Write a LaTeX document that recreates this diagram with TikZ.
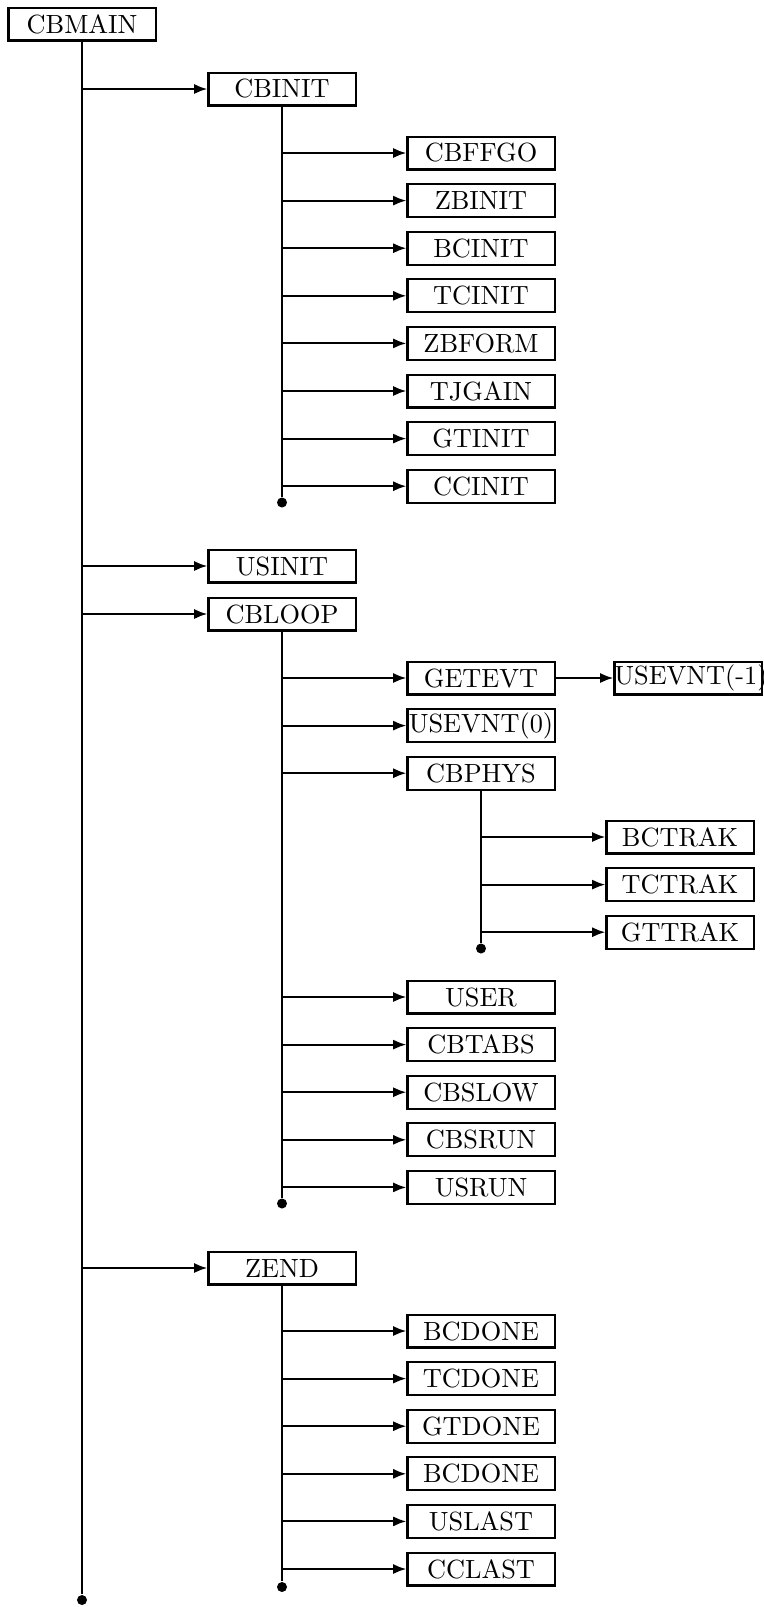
\documentclass[tikz,border=0pt]{standalone}
\usetikzlibrary{arrows.meta,positioning}

\begin{document}
\begin{tikzpicture}[
    x=0.38pt,y=-0.38pt,
    box/.style={draw,thick,text width=55.9pt,minimum height=12.5pt,inner sep=0pt,align=center},
    bullet/.style={circle,fill,inner sep=0pt,minimum size=3.8pt},
    trunk/.style={thick},
    arrow/.style={-{Latex[length=5pt,width=3.8pt]},thick}
]
\useasboundingbox (0,0) rectangle (764,1607);
% top level
\node[box] (cbmain) at (82,24) {CBMAIN};
\node[box] (cbinit) at (282,89) {CBINIT};
\node[box] (usinit) at (282,566) {USINIT};
\node[box] (cbloop) at (282,614) {CBLOOP};
\node[box] (zend) at (282,1268) {ZEND};
\node[bullet] (endmain) at (82,1600) {};
% under CBINIT
\node[box] (cbffgo) at (481,153) {CBFFGO};
\node[box] (zbinit) at (481,200.6) {ZBINIT};
\node[box] (bcinit) at (481,248.2) {BCINIT};
\node[box] (tcinit) at (481,295.8) {TCINIT};
\node[box] (zbform) at (481,343.4) {ZBFORM};
\node[box] (tjgain) at (481,391) {TJGAIN};
\node[box] (gtinit) at (481,438.6) {GTINIT};
\node[box] (ccinit) at (481,486.2) {CCINIT};
\node[bullet] (endinit) at (282,502.5) {};
% under CBLOOP
\node[box] (getevt) at (481,678) {GETEVT};
\node[box] (usevntm) at (688,678) {\mbox{USEVNT(-1)}};
\node[box] (usevnt) at (481,725.6) {USEVNT(0)};
\node[box] (cbphys) at (481,773.2) {CBPHYS};
\node[box] (bctrak) at (680,837) {BCTRAK};
\node[box] (tctrak) at (680,884.6) {TCTRAK};
\node[box] (gttrak) at (680,932.2) {GTTRAK};
\node[bullet] (endphys) at (481,948.5) {};
\node[box] (user) at (481,997) {USER};
\node[box] (cbtabs) at (481,1044.6) {CBTABS};
\node[box] (cbslow) at (481,1092.2) {CBSLOW};
\node[box] (cbsrun) at (481,1139.8) {CBSRUN};
\node[box] (usrun) at (481,1187.4) {USRUN};
\node[bullet] (endloop) at (282,1203.5) {};
% under ZEND
\node[box] (bcdone) at (481,1331) {BCDONE};
\node[box] (tcdone) at (481,1378.6) {TCDONE};
\node[box] (gtdone) at (481,1426.2) {GTDONE};
\node[box] (bcdonea) at (481,1473.8) {BCDONE};
\node[box] (uslast) at (481,1521.4) {USLAST};
\node[box] (cclast) at (481,1569) {CCLAST};
\node[bullet] (endzend) at (282,1587) {};
% trunks
\draw[trunk] (cbmain) -- (endmain);
\draw[trunk] (cbinit) -- (endinit);
\draw[trunk] (cbloop) -- (endloop);
\draw[trunk] (cbphys) -- (endphys);
\draw[trunk] (zend) -- (endzend);
% calls
\draw[arrow] (cbmain |- cbinit) -- (cbinit);
\draw[arrow] (cbmain |- usinit) -- (usinit);
\draw[arrow] (cbmain |- cbloop) -- (cbloop);
\draw[arrow] (cbmain |- zend) -- (zend);
\draw[arrow] (cbinit |- cbffgo) -- (cbffgo);
\draw[arrow] (cbinit |- zbinit) -- (zbinit);
\draw[arrow] (cbinit |- bcinit) -- (bcinit);
\draw[arrow] (cbinit |- tcinit) -- (tcinit);
\draw[arrow] (cbinit |- zbform) -- (zbform);
\draw[arrow] (cbinit |- tjgain) -- (tjgain);
\draw[arrow] (cbinit |- gtinit) -- (gtinit);
\draw[arrow] (cbinit |- ccinit) -- (ccinit);
\draw[arrow] (cbloop |- getevt) -- (getevt);
\draw[arrow] (getevt) -- (usevntm);
\draw[arrow] (cbloop |- usevnt) -- (usevnt);
\draw[arrow] (cbloop |- cbphys) -- (cbphys);
\draw[arrow] (cbphys |- bctrak) -- (bctrak);
\draw[arrow] (cbphys |- tctrak) -- (tctrak);
\draw[arrow] (cbphys |- gttrak) -- (gttrak);
\draw[arrow] (cbloop |- user) -- (user);
\draw[arrow] (cbloop |- cbtabs) -- (cbtabs);
\draw[arrow] (cbloop |- cbslow) -- (cbslow);
\draw[arrow] (cbloop |- cbsrun) -- (cbsrun);
\draw[arrow] (cbloop |- usrun) -- (usrun);
\draw[arrow] (zend |- bcdone) -- (bcdone);
\draw[arrow] (zend |- tcdone) -- (tcdone);
\draw[arrow] (zend |- gtdone) -- (gtdone);
\draw[arrow] (zend |- bcdonea) -- (bcdonea);
\draw[arrow] (zend |- uslast) -- (uslast);
\draw[arrow] (zend |- cclast) -- (cclast);
\end{tikzpicture}
\end{document}
